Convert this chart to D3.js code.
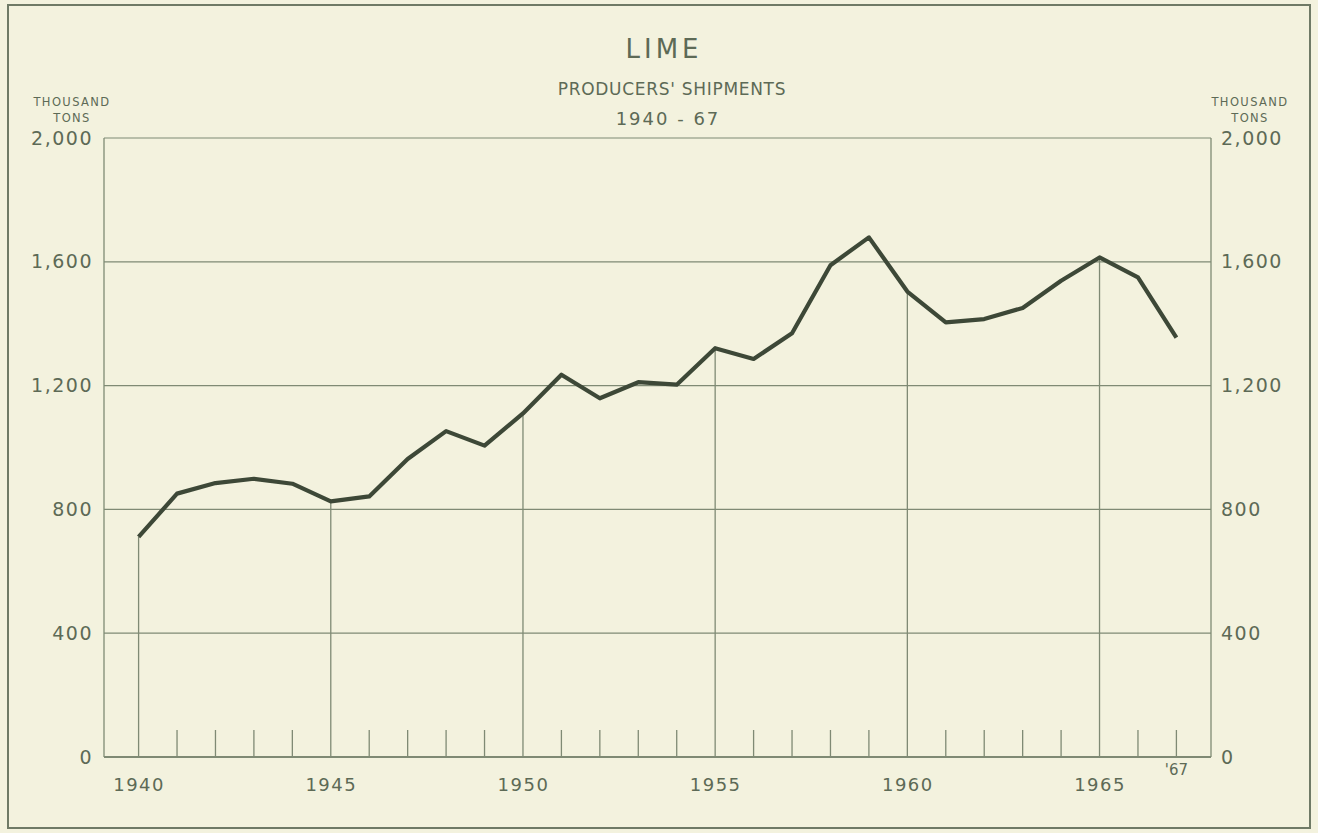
<!DOCTYPE html>
<html>
<head>
<meta charset="utf-8">
<script src="https://cdn.jsdelivr.net/npm/d3@7"></script>
<style>
  html, body { margin: 0; padding: 0; background: #f3f2de; }
  svg { display: block; }
  text { font-family: "DejaVu Sans", sans-serif; fill: #5d6a56; }
</style>
</head>
<body>
<svg id="chart" width="1318" height="833"></svg>
<script>
// ---- data (thousand short tons) ----
const years = [1940,1941,1942,1943,1944,1945,1946,1947,1948,1949,1950,1951,1952,1953,1954,1955,1956,1957,1958,1959,1960,1961,1962,1963,1964,1965,1966,1967];
const shipments = [711,851,885,899,883,826,842,963,1053,1006,1110,1235,1159,1211,1203,1321,1286,1369,1589,1679,1504,1404,1415,1451,1539,1614,1550,1355];
const yTicks = [0,400,800,1200,1600,2000];
const majorYears = [1940,1945,1950,1955,1960,1965];
const minorYears = [1941,1942,1943,1944,1946,1947,1948,1949,1951,1952,1953,1954,1956,1957,1958,1959,1961,1962,1963,1964,1966,1967];
const titleLines = ["LIME", "PRODUCERS' SHIPMENTS", "1940 - 67"];
const unitLines = ["THOUSAND", "TONS"];
const lastLabel = "'67";

(function () {
const svg = d3.select("#chart");
const pL = 104, pR = 1211, pT = 138, pB = 757;

const x = d3.scaleLinear().domain([1939.1, 1967.9]).range([pL, pR]);
const y = d3.scaleLinear().domain([0, 2000]).range([pB, pT]);

const gridColor = "#7f8a74";
const lineColor = "#3d4837";
const textColor = "#5a6753";

// outer border
svg.append("rect").attr("x", 8).attr("y", 5).attr("width", 1302).attr("height", 823)
  .attr("fill", "none").attr("stroke", "#6f7a66").attr("stroke-width", 2);

// horizontal grid lines
svg.append("g").selectAll("line").data(yTicks).join("line")
  .attr("x1", pL).attr("x2", pR)
  .attr("y1", d => y(d)).attr("y2", d => y(d))
  .attr("stroke", gridColor).attr("stroke-width", d => d === 0 ? 2 : 1.2);

// frame verticals
svg.append("g").selectAll("line").data([pL, pR]).join("line")
  .attr("x1", d => d).attr("x2", d => d)
  .attr("y1", y(0)).attr("y2", y(2000))
  .attr("stroke", gridColor).attr("stroke-width", 1.3);

const valueOf = yr => shipments[years.indexOf(yr)];

// drop lines at major years
svg.append("g").selectAll("line").data(majorYears).join("line")
  .attr("x1", d => x(d)).attr("x2", d => x(d))
  .attr("y1", y(0)).attr("y2", d => y(valueOf(d)))
  .attr("stroke", gridColor).attr("stroke-width", 1.3);

// minor ticks
svg.append("g").selectAll("line").data(minorYears).join("line")
  .attr("x1", d => x(d)).attr("x2", d => x(d))
  .attr("y1", y(0)).attr("y2", y(0) - 27)
  .attr("stroke", gridColor).attr("stroke-width", 1.3);

// data line
const line = d3.line().x((d, i) => x(years[i])).y(d => y(d));
svg.append("path").datum(shipments)
  .attr("d", line).attr("fill", "none")
  .attr("stroke", lineColor).attr("stroke-width", 4.2)
  .attr("stroke-linejoin", "round").attr("stroke-linecap", "butt");

// left axis labels
const fmt = d3.format(",");
const leftAxis = d3.axisLeft(y).tickValues(yTicks).tickSize(0).tickPadding(11).tickFormat(fmt);
const gl = svg.append("g").attr("transform", `translate(${pL},0)`).call(leftAxis);
gl.select(".domain").remove();
gl.selectAll("text").style("font-size", "19px").style("letter-spacing", "1.5px").attr("fill", textColor);

const rightAxis = d3.axisRight(y).tickValues(yTicks).tickSize(0).tickPadding(10).tickFormat(fmt);
const gr = svg.append("g").attr("transform", `translate(${pR},0)`).call(rightAxis);
gr.select(".domain").remove();
gr.selectAll("text").style("font-size", "19px").style("letter-spacing", "1.5px").attr("fill", textColor);

// bottom axis labels
const bottomAxis = d3.axisBottom(x).tickValues(majorYears).tickSize(0).tickPadding(21).tickFormat(d3.format("d"));
const gb = svg.append("g").attr("transform", `translate(0,${pB})`).call(bottomAxis);
gb.select(".domain").remove();
gb.selectAll("text").style("font-size", "18px").style("letter-spacing", "1.5px").attr("fill", textColor);

svg.append("text").attr("x", x(1967)).attr("y", pB + 18)
  .attr("text-anchor", "middle").style("font-size", "15px").text(lastLabel);

// titles
svg.append("text").attr("x", 664).attr("y", 58).attr("text-anchor", "middle")
  .style("font-size", "26px").style("letter-spacing", "4px").text(titleLines[0]);
svg.append("text").attr("x", 672).attr("y", 95).attr("text-anchor", "middle")
  .style("font-size", "17px").style("letter-spacing", "0.7px").text(titleLines[1]);
svg.append("text").attr("x", 668).attr("y", 125).attr("text-anchor", "middle")
  .style("font-size", "18px").style("letter-spacing", "2px").text(titleLines[2]);

// unit labels
[72, 1250].forEach(cx => {
  unitLines.forEach((t, i) => {
    svg.append("text").attr("x", cx).attr("y", 106 + i * 16).attr("text-anchor", "middle")
      .style("font-size", "11.5px").style("letter-spacing", "1.4px").text(t);
  });
});
})();
</script>
</body>
</html>
